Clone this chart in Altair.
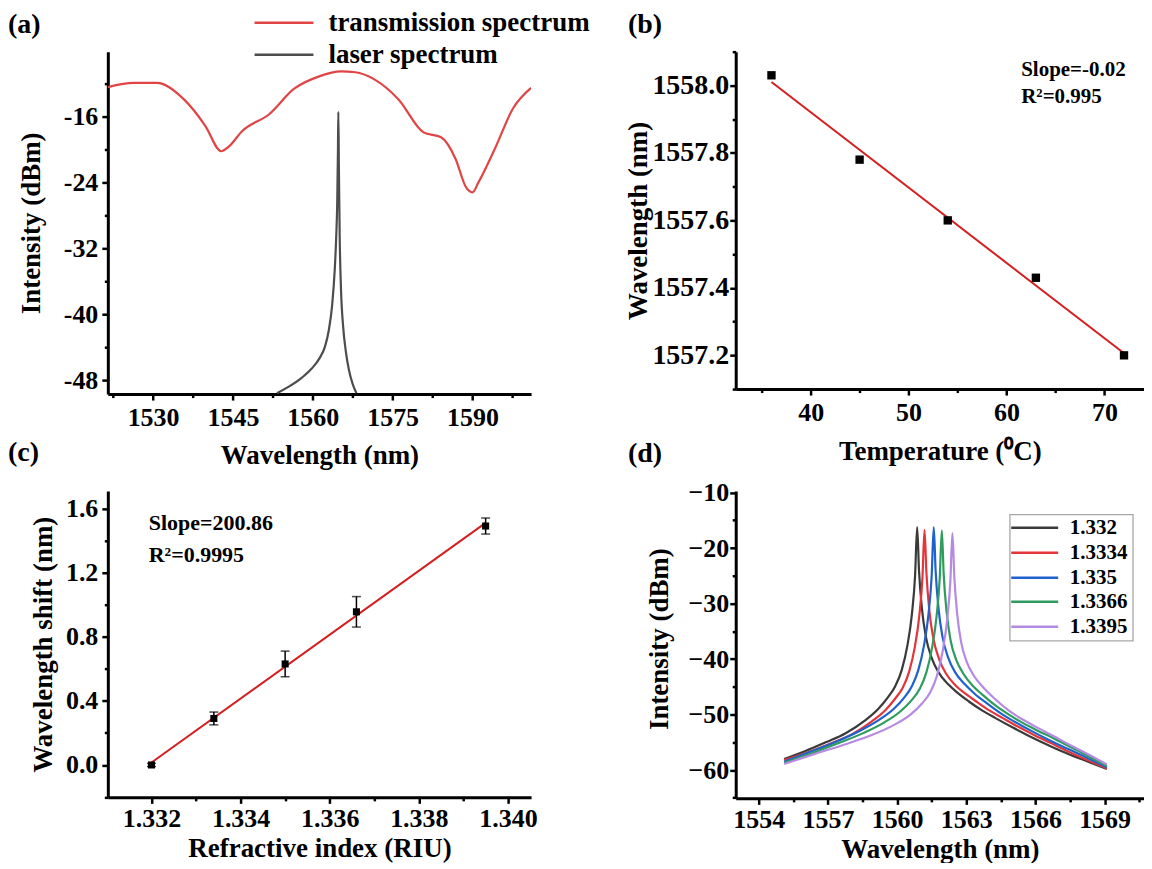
import altair as alt
import pandas as pd

FONT = "Liberation Serif"

# ---------------- (a) transmission / laser spectrum ----------------
trans_wl = [1521.5, 1526.4, 1530.7, 1535.8, 1539.8, 1542.8, 1544.1, 1546.8, 1551.8, 1556.5,
            1561.2, 1565.3, 1568.0, 1571.4, 1576.1, 1580.8, 1584.1, 1586.8, 1588.8, 1590.0,
            1591.1, 1594.2, 1597.6, 1601.0]
trans_db = [-12.4, -11.9, -11.9, -13.9, -17.1, -20.2, -19.7, -17.7, -15.7, -12.6,
            -11.1, -10.5, -10.6, -11.4, -13.9, -17.9, -18.5, -21.1, -24.6, -25.2,
            -24.0, -19.9, -15.0, -12.5]
laser_wl = [1553.27, 1555.5, 1557.96, 1559.8, 1561.3, 1562.3, 1562.99, 1563.65, 1564.12, 1564.4,
            1564.59, 1564.72, 1564.8, 1564.9, 1565.05, 1565.3, 1565.7, 1566.2, 1566.8, 1567.5, 1568.2]
laser_db = [-49.6, -48.8, -47.7, -46.6, -45.3, -43.9, -42.0, -38.8, -34.6, -30.6,
            -26.4, -20.3, -15.4, -22.0, -30.5, -37.0, -41.5, -44.5, -46.8, -48.5, -49.6]
a_series = ["transmission spectrum", "laser spectrum"]
a_colors = ["#e04444", "#4d4d4d"]

# ---------------- (b) temperature ----------------
temp_c = [36, 45, 54, 63, 72]
temp_wl = [1558.03, 1557.78, 1557.60, 1557.43, 1557.20]

# ---------------- (c) refractive index ----------------
ri = [1.332, 1.3334, 1.335, 1.3366, 1.3395]
shift = [0.0, 0.29, 0.63, 0.955, 1.49]
shift_err = [0.01, 0.04, 0.08, 0.095, 0.05]

# ---------------- (d) spectra vs refractive index ----------------
d_labels = ["1.332", "1.3334", "1.335", "1.3366", "1.3395"]
d_colors = ["#3a3a3a", "#e3363b", "#1f62cf", "#2e9c5e", "#b68ae3"]
d1_x = [1555.1, 1556.0, 1556.9, 1557.75, 1558.6, 1559.2, 1559.6, 1559.92, 1560.2, 1560.45,
        1560.64, 1560.78, 1560.87, 1560.95, 1561.08, 1561.25, 1561.5, 1561.8, 1562.23, 1562.6,
        1563.1, 1563.7, 1564.25, 1565.0, 1565.7, 1566.4, 1567.14, 1568.1, 1569.1]
d1_y = [-58.0, -56.6, -55.0, -53.4, -51.1, -48.9, -46.9, -44.9, -42.0, -37.5,
        -32.0, -25.0, -16.2, -24.0, -31.0, -36.0, -39.8, -42.4, -44.6, -46.0,
        -47.6, -49.3, -50.6, -52.3, -53.8, -55.2, -56.6, -58.2, -59.8]
d2_x = [1555.1, 1556.2, 1557.2, 1558.07, 1558.92, 1559.52, 1559.92, 1560.24, 1560.52, 1560.77,
        1560.96, 1561.1, 1561.19, 1561.27, 1561.4, 1561.57, 1561.82, 1562.12, 1562.55, 1562.92,
        1563.42, 1564.02, 1564.57, 1565.3, 1566.0, 1566.65, 1567.35, 1568.2, 1569.1]
d2_y = [-58.2, -56.7, -55.1, -53.5, -51.2, -49.1, -47.1, -45.2, -42.3, -37.8,
        -32.3, -25.3, -16.7, -24.3, -31.3, -36.2, -40.0, -42.6, -44.8, -46.1,
        -47.6, -49.3, -50.6, -52.3, -53.8, -55.1, -56.5, -58.1, -59.7]
d3_x = [1555.1, 1556.3, 1557.4, 1558.35, 1559.2, 1559.85, 1560.3, 1560.64, 1560.92, 1561.17,
        1561.36, 1561.5, 1561.59, 1561.67, 1561.8, 1561.97, 1562.22, 1562.52, 1562.95, 1563.35,
        1563.9, 1564.5, 1565.1, 1565.8, 1566.5, 1567.2, 1568.1, 1569.1]
d3_y = [-58.5, -56.6, -54.8, -53.0, -51.0, -49.0, -47.0, -44.9, -42.0, -37.5,
        -32.0, -25.0, -16.2, -24.0, -31.0, -36.0, -39.8, -42.4, -44.6, -46.2,
        -48.0, -49.8, -51.3, -52.9, -54.4, -55.8, -57.5, -59.5]
d4_x = [1555.1, 1556.35, 1557.55, 1558.55, 1559.45, 1560.15, 1560.63, 1560.99, 1561.27, 1561.52,
        1561.71, 1561.85, 1561.94, 1562.02, 1562.15, 1562.32, 1562.57, 1562.87, 1563.3, 1563.7,
        1564.25, 1564.85, 1565.45, 1566.1, 1566.8, 1567.5, 1568.3, 1569.1]
d4_y = [-58.7, -56.9, -55.0, -53.3, -51.4, -49.4, -47.4, -45.3, -42.4, -37.9,
        -32.4, -25.4, -16.8, -24.6, -31.6, -36.6, -40.2, -42.6, -44.9, -46.4,
        -48.3, -50.0, -51.5, -52.9, -54.3, -55.8, -57.5, -59.3]
d5_x = [1555.1, 1556.5, 1557.8, 1558.9, 1559.85, 1560.58, 1561.08, 1561.45, 1561.73, 1561.98,
        1562.17, 1562.31, 1562.40, 1562.48, 1562.61, 1562.78, 1563.03, 1563.33, 1563.76, 1564.25,
        1564.85, 1565.45, 1566.1, 1566.8, 1567.5, 1568.3, 1569.1]
d5_y = [-58.9, -57.0, -55.3, -53.7, -51.9, -50.0, -48.0, -45.9, -43.0, -38.5,
        -33.0, -26.0, -17.3, -25.0, -32.0, -37.0, -40.6, -43.0, -45.2, -47.2,
        -49.3, -50.9, -52.4, -53.9, -55.5, -57.2, -59.0]

# ---------------- data frames ----------------
df_a = pd.concat([
    pd.DataFrame({"wl": trans_wl, "db": trans_db, "series": a_series[0]}),
    pd.DataFrame({"wl": laser_wl, "db": laser_db, "series": a_series[1]}),
])
df_b = pd.DataFrame({"temp": temp_c, "wl": temp_wl})
df_c = pd.DataFrame({"ri": ri, "shift": shift,
                     "lo": [s - e for s, e in zip(shift, shift_err)],
                     "hi": [s + e for s, e in zip(shift, shift_err)]})
d_xs = [d1_x, d2_x, d3_x, d4_x, d5_x]
d_ys = [d1_y, d2_y, d3_y, d4_y, d5_y]
df_d = pd.concat([pd.DataFrame({"wl": xs, "db": ys, "n": lab})
                  for xs, ys, lab in zip(d_xs, d_ys, d_labels)])

TICK_FS = 26
TITLE_FS = 27


def major(values, fmt, title, tx, ty, angle, label_pad=4, expr=None, fs=TICK_FS):
    kw = dict(values=values, format=fmt, title=title, titleX=tx, titleY=ty,
              titleAngle=angle, titleAlign="center", titleBaseline="middle",
              titleFontSize=TITLE_FS, labelFontSize=fs, tickSize=6,
              labelPadding=label_pad, labelFlush=False, labelOverlap=False,
              labelLimit=400, grid=False)
    if expr is not None:
        kw["labelExpr"] = expr
    return alt.Axis(**kw)


def minor(values, orient):
    return alt.Axis(values=values, labels=False, tickSize=3.5, domain=False,
                    title=None, grid=False, orient=orient)


def text_layer(texts, xs, ys, size, align="left"):
    df = pd.DataFrame({"t": texts, "px": xs, "py": ys})
    return alt.Chart(df).mark_text(font=FONT, fontWeight="bold", fontSize=size,
                                   align=align, baseline="middle", color="black").encode(
        x=alt.X("px:Q", scale=None), y=alt.Y("py:Q", scale=None), text="t:N")


def legend_lines(labels, scale, x1, x2, ys, width=2.5):
    df = pd.DataFrame({"k": labels, "ry": ys})
    return alt.Chart(df).mark_rule(strokeWidth=width).encode(
        x=alt.value(x1), x2=alt.value(x2), y=alt.Y("ry:Q", scale=None),
        color=alt.Color("k:N", scale=scale, legend=None))


HY = "replace(datum.label, '\u2212', '-')"

# ---------------- panel (a) ----------------
WA, HA = 424, 343
xa_sc = alt.Scale(domain=[1521.5, 1601.0], nice=False, zero=False)
ya_sc = alt.Scale(domain=[-49.7, -8.1], nice=False, zero=False)
ca_sc = alt.Scale(domain=a_series, range=a_colors)
a_lines = alt.Chart(df_a).mark_line(strokeWidth=2.2, interpolate="monotone", clip=True).encode(
    x=alt.X("wl:Q", scale=xa_sc,
            axis=major([1530, 1545, 1560, 1575, 1590], "d", "Wavelength (nm)", WA / 2, 62, 0)),
    y=alt.Y("db:Q", scale=ya_sc,
            axis=major([-16, -24, -32, -40, -48], "d", "Intensity (dBm)", -76, HA / 2, -90, expr=HY)),
    color=alt.Color("series:N", scale=ca_sc, legend=None),
    detail="series:N",
)
a_minor = alt.Chart(df_a).mark_point(opacity=0).encode(
    x=alt.X("wl:Q", scale=xa_sc, axis=minor([1522.5, 1537.5, 1552.5, 1567.5, 1582.5, 1597.5], "bottom")),
    y=alt.Y("db:Q", scale=ya_sc, axis=minor([-12, -20, -28, -36, -44], "left")),
)
pa = alt.layer(a_lines, a_minor,
               legend_lines(a_series, ca_sc, 147, 206, [-29, 3]),
               text_layer(a_series, [221, 221], [-29, 3], 27),
               text_layer(["(a)"], [-100], [-27], 28)).resolve_axis(
    x="independent", y="independent").properties(width=WA, height=HA)

# ---------------- panel (b) ----------------
WB, HB = 409, 338
xb_sc = alt.Scale(domain=[32.35, 74.04], nice=False, zero=False)
yb_sc = alt.Scale(domain=[1557.1, 1558.1], nice=False, zero=False)
b_pts = alt.Chart(df_b).mark_square(size=70, color="black", opacity=1).encode(
    x=alt.X("temp:Q", scale=xb_sc,
            axis=major([40, 50, 60, 70], "d", "Temperature (\u2070C)", WB / 2, 63, 0)),
    y=alt.Y("wl:Q", scale=yb_sc,
            axis=major([1557.2, 1557.4, 1557.6, 1557.8, 1558.0], ".1f", "Wavelength (nm)",
                       -97, HB / 2, -90, label_pad=1, fs=28)),
)
b_fit = alt.Chart(df_b).transform_regression("temp", "wl").mark_line(
    color="#d41f1f", strokeWidth=2).encode(
    x=alt.X("temp:Q", scale=xb_sc, axis=None), y=alt.Y("wl:Q", scale=yb_sc, axis=None))
b_minor = alt.Chart(df_b).mark_point(opacity=0).encode(
    x=alt.X("temp:Q", scale=xb_sc, axis=minor([35, 45, 55, 65], "bottom")),
    y=alt.Y("wl:Q", scale=yb_sc,
            axis=minor([1557.1, 1557.3, 1557.5, 1557.7, 1557.9, 1558.1], "left")),
)
pb = alt.layer(b_fit, b_pts, b_minor,
               text_layer(["Slope=-0.02", "R\u00b2=0.995"], [286, 286], [18, 45], 21),
               text_layer(["(b)"], [-108], [-27], 28)).resolve_axis(
    x="independent", y="independent").properties(width=WB, height=HB)

# ---------------- panel (c) ----------------
WC, HC = 424, 307
xc_sc = alt.Scale(domain=[1.33102, 1.34052], nice=False, zero=False)
yc_sc = alt.Scale(domain=[-0.202, 1.709], nice=False, zero=False)
c_pts = alt.Chart(df_c).mark_square(size=50, color="black", opacity=1).encode(
    x=alt.X("ri:Q", scale=xc_sc,
            axis=major([1.332, 1.334, 1.336, 1.338, 1.340], ".3f", "Refractive index (RIU)",
                       WC / 2, 51, 0, label_pad=2)),
    y=alt.Y("shift:Q", scale=yc_sc,
            axis=major([0.0, 0.4, 0.8, 1.2, 1.6], ".1f", "Wavelength shift (nm)",
                       -64, HC / 2, -90)),
)
c_fit = alt.Chart(df_c).transform_regression("ri", "shift").mark_line(
    color="#d41f1f", strokeWidth=2).encode(
    x=alt.X("ri:Q", scale=xc_sc, axis=None), y=alt.Y("shift:Q", scale=yc_sc, axis=None))
c_err = alt.Chart(df_c).mark_rule(color="black", strokeWidth=1.5).encode(
    x=alt.X("ri:Q", scale=xc_sc, axis=None), y=alt.Y("lo:Q", scale=yc_sc, axis=None), y2="hi:Q")
c_cap_lo = alt.Chart(df_c).mark_tick(color="black", orient="horizontal", size=9, thickness=1.5).encode(
    x=alt.X("ri:Q", scale=xc_sc, axis=None), y=alt.Y("lo:Q", scale=yc_sc, axis=None))
c_cap_hi = alt.Chart(df_c).mark_tick(color="black", orient="horizontal", size=9, thickness=1.5).encode(
    x=alt.X("ri:Q", scale=xc_sc, axis=None), y=alt.Y("hi:Q", scale=yc_sc, axis=None))
c_minor = alt.Chart(df_c).mark_point(opacity=0).encode(
    x=alt.X("ri:Q", scale=xc_sc, axis=minor([1.331, 1.333, 1.335, 1.337, 1.339], "bottom")),
    y=alt.Y("shift:Q", scale=yc_sc, axis=minor([-0.2, 0.2, 0.6, 1.0, 1.4], "left")),
)
pc = alt.layer(c_fit, c_err, c_cap_lo, c_cap_hi, c_pts, c_minor,
               text_layer(["Slope=200.86", "R\u00b2=0.9995"], [41, 41], [32, 64], 22),
               text_layer(["(c)"], [-100], [-38], 28)).resolve_axis(
    x="independent", y="independent").properties(width=WC, height=HC)

# ---------------- panel (d) ----------------
WD, HD = 409, 308
xd_sc = alt.Scale(domain=[1553.0, 1570.71], nice=False, zero=False)
yd_sc = alt.Scale(domain=[-65.1, -9.7], nice=False, zero=False)
cd_sc = alt.Scale(domain=d_labels, range=d_colors)
d_lines = alt.Chart(df_d).mark_line(strokeWidth=2.2, interpolate="monotone").encode(
    x=alt.X("wl:Q", scale=xd_sc,
            axis=major([1554, 1557, 1560, 1563, 1566, 1569], "d", "Wavelength (nm)", WD / 2, 51, 0,
                       label_pad=2)),
    y=alt.Y("db:Q", scale=yd_sc,
            axis=major([-10, -20, -30, -40, -50, -60], "d", "Intensity (dBm)", -76, 148, -90,
                       label_pad=1)),
    color=alt.Color("n:N", scale=cd_sc, legend=None),
    detail="n:N",
)
d_minor = alt.Chart(df_d).mark_point(opacity=0).encode(
    x=alt.X("wl:Q", scale=xd_sc,
            axis=minor([1555.5, 1558.5, 1561.5, 1564.5, 1567.5, 1570.5], "bottom")),
    y=alt.Y("db:Q", scale=yd_sc, axis=minor([-15, -25, -35, -45, -55, -65], "left")),
)
d_box = alt.Chart(pd.DataFrame({"k": [0]})).mark_rect(
    fillOpacity=0, stroke="#a8a8a8", strokeWidth=1.3).encode(
    x=alt.value(274.7), x2=alt.value(398), y=alt.value(23.7), y2=alt.value(150.3))
d_rows = [37, 62, 87, 111, 136]
pd_ = alt.layer(d_lines, d_minor, d_box,
                legend_lines(d_labels, cd_sc, 276, 323, d_rows),
                text_layer(d_labels, [334.7] * 5, d_rows, 21),
                text_layer(["(d)"], [-108], [-37], 28)).resolve_axis(
    x="independent", y="independent").properties(width=WD, height=HD)

chart = alt.concat(pa, pb, pc, pd_, columns=2, spacing={"row": 97, "column": 205},
                   bounds="flush", align="each").resolve_scale(
    color="independent"
).properties(
    padding=0
).configure_axis(
    labelFont=FONT, labelFontWeight="bold", labelColor="black",
    titleFont=FONT, titleFontWeight="bold", titleColor="black",
    domainColor="black", domainWidth=3, tickColor="black", tickWidth=2.5,
).configure_view(stroke=None)

chart.save("out.html", embed_options={"renderer": "svg", "actions": False})
